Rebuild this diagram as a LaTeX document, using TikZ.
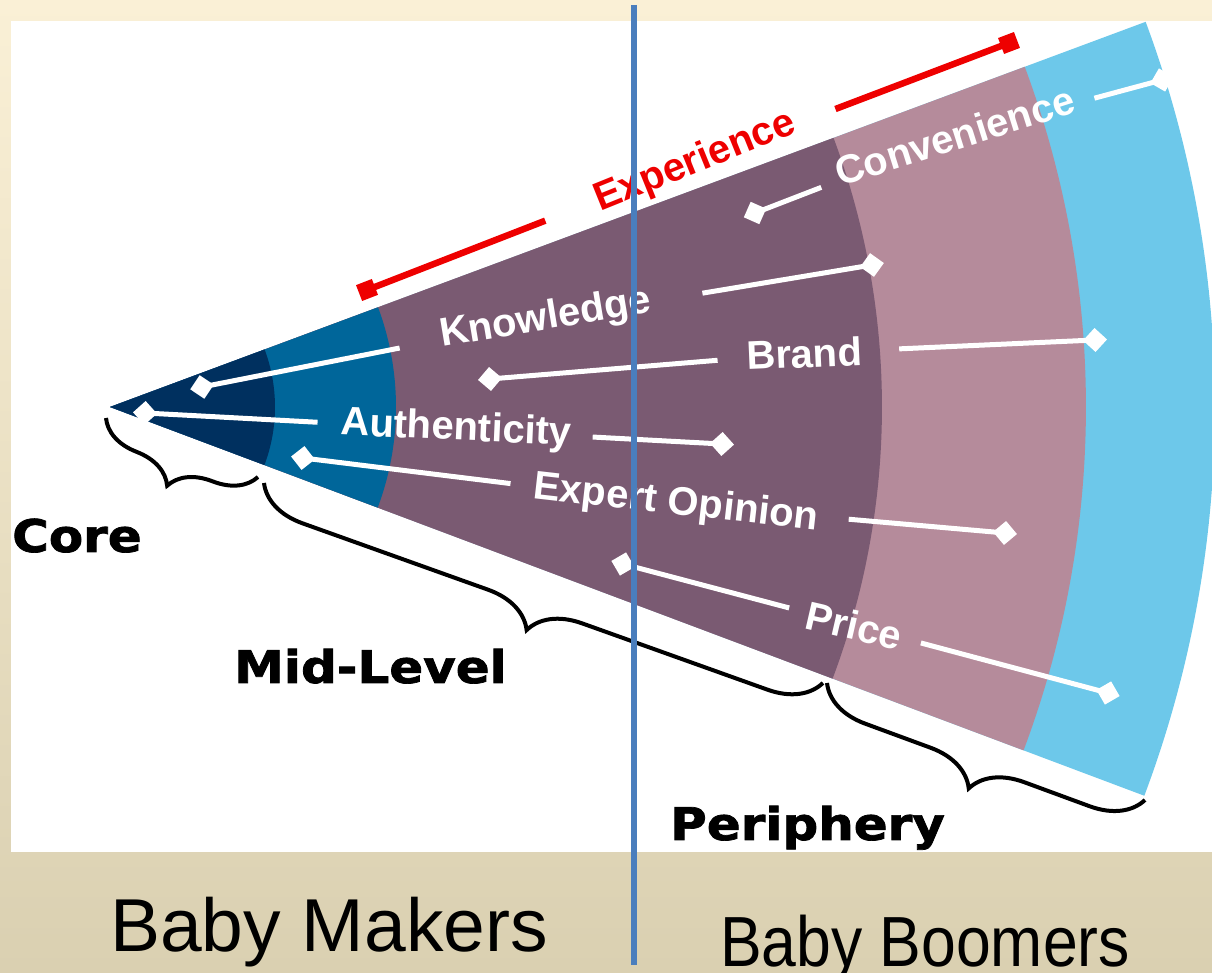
\documentclass[tikz,border=0pt]{standalone}
\usepackage{fontspec}
\setmainfont{Liberation Sans}
\newfontfamily\heavyfont[BoldFeatures={FakeBold=1.6}]{DejaVu Sans}
\usetikzlibrary{arrows.meta, decorations.pathreplacing}

\definecolor{creamtop}{HTML}{FAF0D6}
\definecolor{tanbottom}{HTML}{DAD0B1}
\definecolor{coreblue}{HTML}{00305F}
\definecolor{midblue}{HTML}{00669A}
\definecolor{plum}{HTML}{7A5A72}
\definecolor{mauve}{HTML}{B58B9B}
\definecolor{skyblue}{HTML}{6DC8EA}
\definecolor{expred}{HTML}{EE0000}
\definecolor{divider}{HTML}{4A7EBD}

\begin{document}
\begin{tikzpicture}[x=1pt, y=1pt,
    lbl/.style={font=\bfseries\fontsize{40}{40}\selectfont, text=white, inner sep=0pt, anchor=base west},
    lvl/.style={font=\heavyfont\bfseries\fontsize{45}{45}\selectfont, inner sep=0pt, anchor=base west, xscale=1.11},
    leader/.style={white, line width=5pt, -{Turned Square[length=24pt,width=24pt]}, shorten >=-12pt},
    redbar/.style={expred, line width=6.5pt, -{Square[length=17pt,width=17pt]}, shorten >=-8.5pt},
    curly/.style={decorate, decoration={brace, mirror, amplitude=#1}, line width=4pt}]
    \useasboundingbox (0,0) rectangle (1212,973);

    % Slide background and white picture area
    \shade[top color=creamtop, bottom color=tanbottom] (0,0) rectangle (1212,973);
    \fill[white] (11,121) rectangle (1212,952);

    % Wedge bands (outermost first)
    \coordinate (ap) at (110,566);
    \foreach \r/\c in {1105/skyblue, 976/mauve, 772/plum, 286/midblue, 165/coreblue}
        \fill[\c] (ap) -- ++(20.4:\r) arc[start angle=20.4, end angle=-20.6, radius=\r] -- cycle;

    % Diamond ends of the leaders
    \coordinate (kn-l) at (202,586);
    \coordinate (kn-r) at (872,708);
    \coordinate (cv-l) at (755,760);
    \coordinate (cv-r) at (1162,893);
    \coordinate (br-l) at (490,594);
    \coordinate (br-r) at (1095,633);
    \coordinate (au-l) at (145,560);
    \coordinate (au-r) at (722,529);
    \coordinate (eo-l) at (303,515);
    \coordinate (eo-r) at (1005,440);
    \coordinate (pr-l) at (623,409);
    \coordinate (pr-r) at (1108,280);
    \coordinate (xp-l) at (367,683);
    \coordinate (xp-r) at (1009,930);

    % Attribute labels
    \node[lbl, rotate=9.5] (kn) at (442,626) {Knowledge};
    \node[lbl, rotate=17.5] (cv) at (840,786) {Convenience};
    \node[lbl, rotate=2.5] (br) at (747,603) {Brand};
    \node[lbl, rotate=-2.5] (au) at (340,538) {Authenticity};
    \node[lbl, rotate=-6.5] (eo) at (532,475) {Expert Opinion};
    \node[lbl, rotate=-13] (pr) at (803,345) {Price};
    \node[lbl, rotate=22, text=expred] (xp) at (600,761) {Experience};

    % Leaders
    \draw[leader, shorten <=42pt] (kn) -- (kn-l);
    \draw[leader, shorten <=52pt] (kn) -- (kn-r);
    \draw[leader, shorten <=18pt] (cv) -- (cv-l);
    \draw[leader, shorten <=20pt] (cv) -- (cv-r);
    \draw[leader, shorten <=29pt] (br) -- (br-l);
    \draw[leader, shorten <=37pt] (br) -- (br-r);
    \draw[leader, shorten <=23pt] (au) -- (au-l);
    \draw[leader, shorten <=21pt] (au) -- (au-r);
    \draw[leader, shorten <=23pt] (eo) -- (eo-l);
    \draw[leader, shorten <=30pt] (eo) -- (eo-r);
    \draw[leader, shorten <=18pt] (pr) -- (pr-l);
    \draw[leader, shorten <=20pt] (pr) -- (pr-r);
    \draw[redbar, shorten <=54pt] (xp) -- (xp-l);
    \draw[redbar, shorten <=43pt] (xp) -- (xp-r);

    % Braces under the wedge
    \coordinate (c-a) at (106,555);
    \coordinate (c-b) at (258,496);
    \coordinate (m-a) at (264,490);
    \coordinate (m-b) at (823,290);
    \coordinate (p-a) at (827,290);
    \coordinate (p-b) at (1145,173);
    \draw[curly=41pt] (c-a) -- (c-b);
    \draw[curly=50pt] (m-a) -- (m-b);
    \draw[curly=50pt] (p-a) -- (p-b);

    % Level names
    \node[lvl] (core) at (12,421) {Core};
    \node[lvl] (mid) at (234,290) {Mid-Level};
    \node[lvl] (peri) at (670,133) {Periphery};

    % Generations
    \node[font=\fontsize{75}{75}\selectfont, anchor=base, inner sep=0pt] (makers) at (329,21) {Baby Makers};
    \node[font=\fontsize{71}{71}\selectfont, anchor=base, inner sep=0pt, xscale=0.88] (boomers) at (925,6) {Baby Boomers};

    % Divider
    \coordinate (div-t) at (634,968);
    \coordinate (div-b) at (634,8);
    \draw[divider, line width=6.5pt] (div-t) -- (div-b);
\end{tikzpicture}
\end{document}
